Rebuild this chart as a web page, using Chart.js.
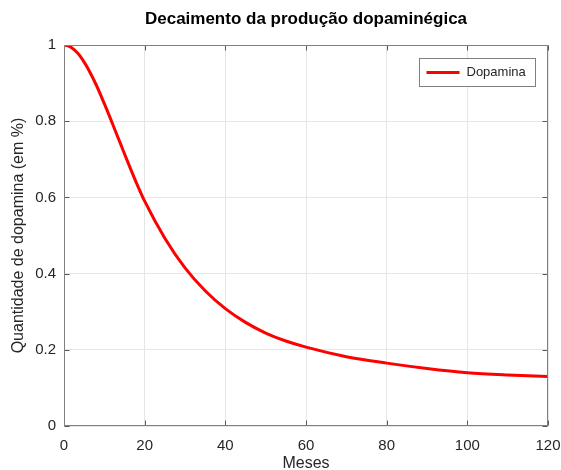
<!DOCTYPE html>
<html>
<head>
<meta charset="utf-8">
<script src="https://cdn.jsdelivr.net/npm/chart.js@4.4.1/dist/chart.umd.min.js"></script>
<style>
  html, body { margin: 0; padding: 0; background: #fff; }
</style>
</head>
<body>
<canvas id="chart" width="561" height="470"></canvas>
<script>
// Data
const months = [0, 1, 2, 3, 4, 5, 6, 8, 10, 12, 14, 16, 18, 20, 25, 30, 35, 40, 45, 50, 55, 60, 70, 80, 90, 100, 110, 120];
const dopamine = [1.0, 0.998, 0.992, 0.983, 0.971, 0.955, 0.937, 0.895, 0.846, 0.794, 0.741, 0.688, 0.637, 0.59, 0.493, 0.415, 0.355, 0.308, 0.272, 0.244, 0.223, 0.207, 0.182, 0.165, 0.151, 0.140, 0.134, 0.13];
const seriesLabel = "Dopamina";
const chartTitle = "Decaimento da produção dopaminégica";
const xTitle = "Meses";
const yTitle = "Quantidade de dopamina (em %)";

const FONT = "'Liberation Sans', Arial, sans-serif";
const TEXT = "#262626";

// Box, inward ticks, title and legend (MATLAB look)
const framePlugin = {
  id: "framePlugin",
  afterDraw(chart) {
    const { ctx, chartArea: a, scales } = chart;
    const L = Math.round(a.left) + 0.5;
    const R = Math.round(a.right) - 0.5;
    const T = Math.round(a.top) + 0.5;
    const B = Math.round(a.bottom) - 0.5;
    ctx.save();

    // tick marks pointing inwards
    ctx.strokeStyle = "#595959";
    ctx.lineWidth = 1;
    ctx.beginPath();
    scales.x.ticks.forEach((t) => {
      const px = Math.round(scales.x.getPixelForValue(t.value)) + 0.5;
      ctx.moveTo(px, B);
      ctx.lineTo(px, B - 5);
      ctx.moveTo(px, T);
      ctx.lineTo(px, T + 5);
    });
    scales.y.ticks.forEach((t) => {
      const py = Math.round(scales.y.getPixelForValue(t.value)) + 0.5;
      ctx.moveTo(L, py);
      ctx.lineTo(L + 5, py);
      ctx.moveTo(R, py);
      ctx.lineTo(R - 5, py);
    });
    ctx.stroke();

    // axes box
    ctx.strokeStyle = "#808080";
    ctx.strokeRect(L, T, R - L, B - T);

    // title
    ctx.fillStyle = "#000";
    ctx.font = "bold 17px " + FONT;
    ctx.textAlign = "center";
    ctx.textBaseline = "middle";
    ctx.fillText(chartTitle, (a.left + a.right) / 2, 19);

    // legend
    const lw = 116, lh = 28;
    const lx = Math.round(a.right) - 13 - lw + 0.5;
    const ly = Math.round(a.top) + 13 + 0.5;
    ctx.fillStyle = "#fff";
    ctx.fillRect(lx, ly, lw, lh);
    ctx.strokeStyle = "#808080";
    ctx.strokeRect(lx, ly, lw, lh);
    const my = ly + lh / 2;
    ctx.strokeStyle = chart.data.datasets[0].borderColor;
    ctx.lineWidth = 3;
    ctx.beginPath();
    ctx.moveTo(lx + 7, my);
    ctx.lineTo(lx + 40, my);
    ctx.stroke();
    ctx.fillStyle = TEXT;
    ctx.font = "13px " + FONT;
    ctx.textAlign = "left";
    ctx.fillText(chart.data.datasets[0].label, lx + 47, my);
    ctx.restore();
  },
};

new Chart(document.getElementById("chart"), {
  type: "line",
  data: {
    datasets: [
      {
        label: seriesLabel,
        data: months.map((m, i) => ({ x: m, y: dopamine[i] })),
        borderColor: "#ff0000",
        borderWidth: 3,
        pointRadius: 0,
        fill: false,
        cubicInterpolationMode: "monotone",
      },
    ],
  },
  options: {
    responsive: false,
    animation: false,
    devicePixelRatio: 1,
    layout: { padding: { top: 45, right: 13, left: 0, bottom: 0 } },
    plugins: {
      legend: { display: false },
      tooltip: { enabled: false },
      title: { display: false },
    },
    scales: {
      x: {
        type: "linear",
        min: 0,
        max: 120,
        ticks: {
          stepSize: 20,
          padding: 11,
          color: TEXT,
          maxRotation: 0,
          font: { family: FONT, size: 15 },
        },
        grid: { color: "#e6e6e6", drawTicks: false },
        border: { display: false },
        title: {
          display: true,
          text: xTitle,
          color: TEXT,
          padding: 0,
          font: { family: FONT, size: 16, lineHeight: 0.8 },
        },
        afterFit(scale) {
          scale.height = 44;
          scale.paddingLeft = 0;
          scale.paddingRight = 0;
        },
      },
      y: {
        min: 0,
        max: 1,
        ticks: {
          stepSize: 0.2,
          padding: 8,
          color: TEXT,
          font: { family: FONT, size: 15 },
          callback: (v) => String(Number(v.toFixed(2))),
        },
        grid: { color: "#e6e6e6", drawTicks: false },
        border: { display: false },
        title: {
          display: true,
          text: yTitle,
          color: TEXT,
          padding: { top: 9, bottom: 0 },
          font: { family: FONT, size: 16 },
        },
        afterFit(scale) {
          scale.width = 64;
          scale.paddingTop = 0;
          scale.paddingBottom = 0;
        },
      },
    },
  },
  plugins: [framePlugin],
});
</script>
</body>
</html>
